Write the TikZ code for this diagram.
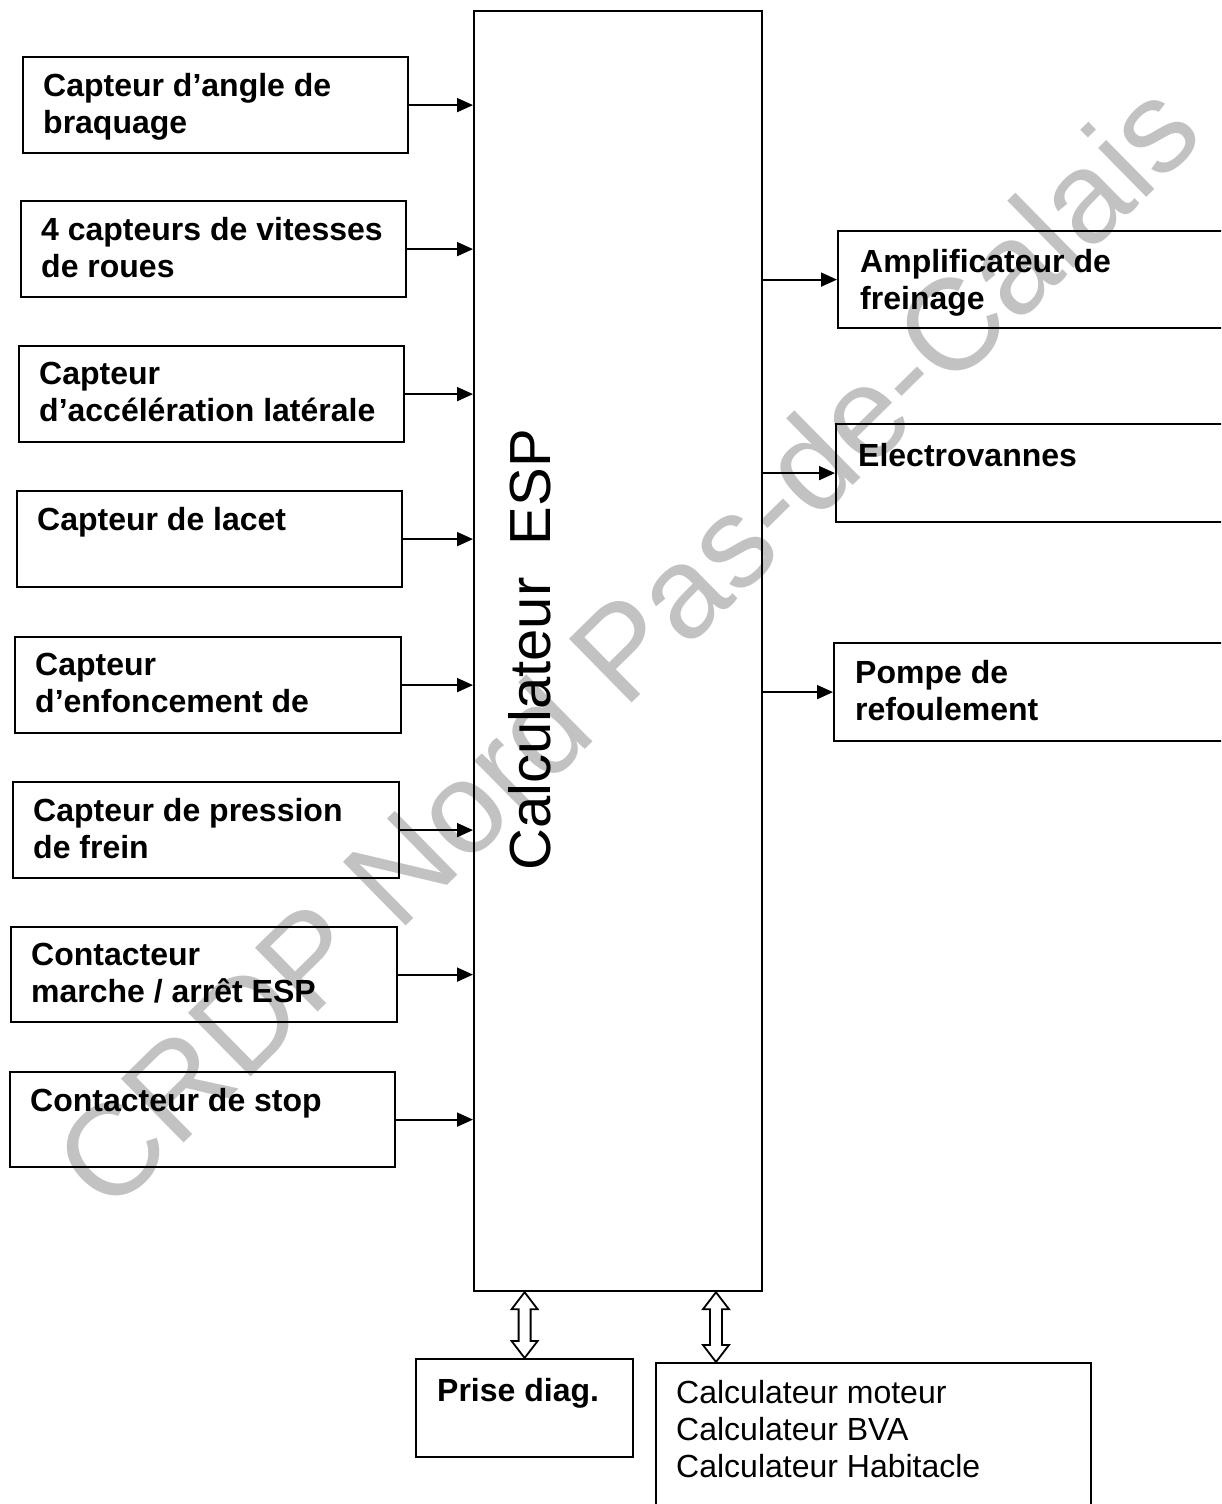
\documentclass[tikz,border=0pt]{standalone}
\usepackage{fontspec}
\setmainfont{Liberation Sans}
\usetikzlibrary{arrows.meta,calc}
\newcommand\dblarr[2]{%
  \draw[dbl] (#1) -- ($(#1)+(13pt,-17pt)$) -- ($(#1)+(6pt,-17pt)$)
    -- ($(#2)+(6pt,17pt)$) -- ($(#2)+(13pt,17pt)$) -- (#2)
    -- ($(#2)+(-13pt,17pt)$) -- ($(#2)+(-6pt,17pt)$)
    -- ($(#1)+(-6pt,-17pt)$) -- ($(#1)+(-13pt,-17pt)$) -- cycle;}
\begin{document}
\begin{tikzpicture}[x=1pt,y=-1pt,
  box/.style={draw, line width=2.2pt, inner sep=0pt, anchor=north west},
  lbl/.style={anchor=north west, inner sep=0pt, align=left,
    font=\fontsize{32}{37}\selectfont\bfseries},
  rlbl/.style={anchor=north west, inner sep=0pt, align=left,
    font=\fontsize{32}{37}\selectfont},
  arr/.style={line width=1.8pt, -{Triangle[length=16pt,width=14pt]}},
  dbl/.style={line width=1.8pt, fill=white, line join=miter},
  wm/.style={text=black!24, inner sep=0pt, font=\fontsize{130}{134}\selectfont}]
\useasboundingbox (0,0) rectangle (1221,1504);
\clip (0,0) rectangle (1221,1504);
\fill[white] (0,0) rectangle (1221,1504);

% watermark
\node[wm, rotate=44.5] (wmk) at (626,644) {CRDP Nord Pas-de-Calais};

% central unit
\node[box, minimum width=288pt, minimum height=1280pt] (esp) at (473,10) {};
\node[anchor=base, rotate=90, inner sep=0pt, font=\fontsize{58}{60}\selectfont]
  (espt) at (550,650) {Calculateur\ \ ESP};

% left boxes
\node[box, minimum width=385pt, minimum height=96pt] (b1) at (22,56) {};
\node[box, minimum width=385pt, minimum height=96pt] (b2) at (20,200) {};
\node[box, minimum width=385pt, minimum height=96pt] (b3) at (18,345) {};
\node[box, minimum width=385pt, minimum height=96pt] (b4) at (16,490) {};
\node[box, minimum width=386pt, minimum height=96pt] (b5) at (14,636) {};
\node[box, minimum width=386pt, minimum height=96pt] (b6) at (12,781) {};
\node[box, minimum width=386pt, minimum height=95pt] (b7) at (10,926) {};
\node[box, minimum width=385pt, minimum height=95pt] (b8) at (9,1071) {};

\node[lbl] (t1) at ($(b1.north west)+(21pt,-17pt)$) {Capteur d’angle de\\braquage};
\node[lbl] (t2) at ($(b2.north west)+(21pt,-17pt)$) {4 capteurs de vitesses\\de roues};
\node[lbl] (t3) at ($(b3.north west)+(21pt,-17pt)$) {Capteur\\d’accélération latérale};
\node[lbl] (t4) at ($(b4.north west)+(21pt,-17pt)$) {Capteur de lacet};
\node[lbl] (t5) at ($(b5.north west)+(21pt,-17pt)$) {Capteur\\d’enfoncement de};
\node[lbl] (t6) at ($(b6.north west)+(21pt,-17pt)$) {Capteur de pression\\de frein};
\node[lbl] (t7) at ($(b7.north west)+(21pt,-17pt)$) {Contacteur\\marche / arrêt ESP};
\node[lbl] (t8) at ($(b8.north west)+(21pt,-17pt)$) {Contacteur de stop};

\foreach \b in {b1,b2,b3,b4,b5,b6,b7,b8}
  \draw[arr] (\b.east) -- (\b.east -| esp.west);

% right boxes
\node[box, minimum width=403pt, minimum height=97pt] (r1) at (837,230) {};
\node[box, minimum width=405pt, minimum height=98pt] (r2) at (835,423) {};
\node[box, minimum width=407pt, minimum height=98pt] (r3) at (833,642) {};

\node[lbl] (u1) at ($(r1.north west)+(23pt,-19pt)$) {Amplificateur de\\freinage};
\node[lbl] (u2) at ($(r2.north west)+(23pt,-20pt)$) {Electrovannes};
\node[lbl] (u3) at ($(r3.north west)+(22pt,-18pt)$) {Pompe de\\refoulement};

\foreach \r in {r1,r2,r3}
  \draw[arr] (esp.east |- \r.west) -- (\r.west);

% bottom boxes
\node[box, minimum width=217pt, minimum height=98pt] (pd) at (415,1358) {};
\node[box, minimum width=435pt, minimum height=170pt] (cb) at (655,1362) {};
\node[lbl] (pdt) at ($(pd.north west)+(22pt,-20pt)$) {Prise diag.};
\node[rlbl] (cbt) at ($(cb.north west)+(21pt,-18pt)$)
  {Calculateur moteur\\Calculateur BVA\\Calculateur Habitacle};

\coordinate (d1t) at (esp.south -| pd.north);
\coordinate (d1b) at (pd.north);
\coordinate (d2t) at (esp.south -| 716,0);
\coordinate (d2b) at (cb.north -| 716,0);
\dblarr{d1t}{d1b}
\dblarr{d2t}{d2b}
\end{tikzpicture}
\end{document}
